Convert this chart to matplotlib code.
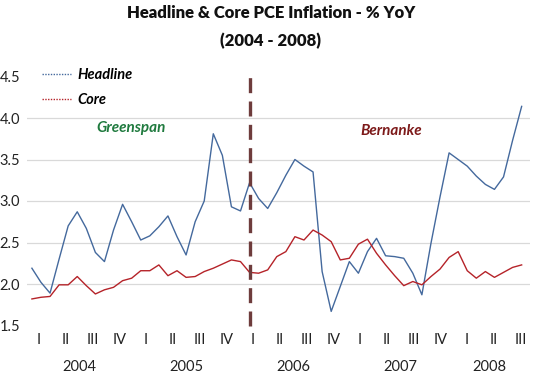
import matplotlib
matplotlib.use("Agg")
import matplotlib.pyplot as plt
from matplotlib.lines import Line2D
import matplotlib.transforms as mtransforms

plt.rcParams['font.family'] = ['Lato', 'DejaVu Sans']

# Monthly data, Jan 2004 .. Jul 2008 (% YoY)
headline = [2.19, 2.02, 1.89, 2.30, 2.70, 2.87, 2.67, 2.38, 2.27, 2.65,
            2.96, 2.75, 2.53, 2.58, 2.69, 2.82, 2.57, 2.35, 2.75, 3.00,
            3.81, 3.55, 2.93, 2.88, 3.22, 3.03, 2.91, 3.10, 3.31, 3.50,
            3.42, 3.35, 2.15, 1.67, 1.97, 2.27, 2.13, 2.39, 2.55, 2.34,
            2.33, 2.31, 2.13, 1.87, 2.49, 3.05, 3.58, 3.50, 3.42, 3.30,
            3.20, 3.14, 3.29, 3.73, 4.14]
core = [1.82, 1.84, 1.85, 1.99, 1.99, 2.09, 1.98, 1.88, 1.93, 1.96,
        2.04, 2.07, 2.16, 2.16, 2.23, 2.10, 2.16, 2.08, 2.09, 2.15,
        2.19, 2.24, 2.29, 2.27, 2.14, 2.13, 2.17, 2.33, 2.39, 2.57,
        2.53, 2.65, 2.59, 2.51, 2.29, 2.31, 2.48, 2.54, 2.37, 2.23,
        2.10, 1.98, 2.03, 1.99, 2.09, 2.18, 2.32, 2.39, 2.16, 2.07,
        2.15, 2.08, 2.14, 2.20, 2.23]
quarter_labels = ['I', 'II', 'III', 'IV'] * 4 + ['I', 'II', 'III']
year_labels = ['2004', '2005', '2006', '2007', '2008']
quarters_per_year = [4, 4, 4, 4, 3]
yticks = [1.5, 2.0, 2.5, 3.0, 3.5, 4.0, 4.5]
transition_month = 24  # Jan 2006: Greenspan -> Bernanke

W, H = 534, 376
fig = plt.figure(figsize=(W / 100, H / 100), dpi=100)
ax = fig.add_axes([27 / W, 1 - 325.5 / H, (530 - 27) / W, (325.5 - 76.5) / H])

x = list(range(len(headline)))
ax.plot(x, headline, color='#44699d', lw=1.0, label='Headline')
ax.plot(x, core, color='#b52329', lw=1.0, label='Core')
ax.axvline(transition_month, color='#6e3c3c', lw=2.4, ls=(0, (4.5, 2.5)),
           ymin=0, ymax=1, clip_on=False)

ax.set_xlim(-0.54, 54.92)
ax.set_ylim(1.5, 4.5)
ax.set_yticks(yticks)
ax.set_yticklabels([f'{v:.1f}' for v in yticks], fontsize=10.5, color='#222222')
ax.tick_params(axis='y', length=0, pad=5)
ax.set_xticks([])
for v in yticks[1:-1]:
    ax.axhline(v, color='#d9d9d9', lw=0.9, zorder=0)
for s in ax.spines.values():
    s.set_visible(False)

# Quarter and year labels
trans = mtransforms.blended_transform_factory(ax.transData, fig.transFigure)
q_start, q_step = 0.78, 2.95
q_pos = [q_start + q_step * k for k in range(len(quarter_labels))]
for p, lab in zip(q_pos, quarter_labels):
    ax.text(p, 1 - 340 / H, lab, transform=trans, ha='center', va='center',
            fontsize=10.5, color='#222222')
k = 0
for yr, n in zip(year_labels, quarters_per_year):
    center = (q_pos[k] + q_pos[k + n - 1]) / 2 if n == 4 else q_pos[k] + q_step * 0.85
    ax.text(center, 1 - 367 / H, yr, transform=trans, ha='center', va='center',
            fontsize=10.5, color='#222222')
    k += n

# Titles
fig.text(271 / W, 1 - 13 / H, 'Headline & Core PCE Inflation - % YoY',
         ha='center', va='center', fontsize=12, fontweight='heavy', color='#111111')
fig.text(271 / W, 1 - 41 / H, '(2004 - 2008)', ha='center', va='center',
         fontsize=12, fontweight='heavy', color='#111111')

# Legend
handles = [Line2D([], [], color='#44699d', lw=1.0, ls=(0, (1, 1))),
           Line2D([], [], color='#b52329', lw=1.0, ls=(0, (1, 1)))]
leg = fig.legend(handles, ['Headline', 'Core'], loc='upper left',
                 bbox_to_anchor=(29 / W, 1 - 55 / H), frameon=False,
                 handlelength=2.0, handletextpad=0.45, labelspacing=0.75,
                 prop={'size': 10.5, 'weight': 'bold', 'style': 'italic'})

# Era annotations
ax.text(131 / W, 1 - 128 / H, 'Greenspan', transform=fig.transFigure,
        ha='center', va='center', fontsize=11, fontweight='bold',
        style='italic', color='#1f7a3e')
ax.text(391 / W, 1 - 131 / H, 'Bernanke', transform=fig.transFigure,
        ha='center', va='center', fontsize=11, fontweight='bold',
        style='italic', color='#7d1a1a')

fig.savefig('out.png', dpi=100)
